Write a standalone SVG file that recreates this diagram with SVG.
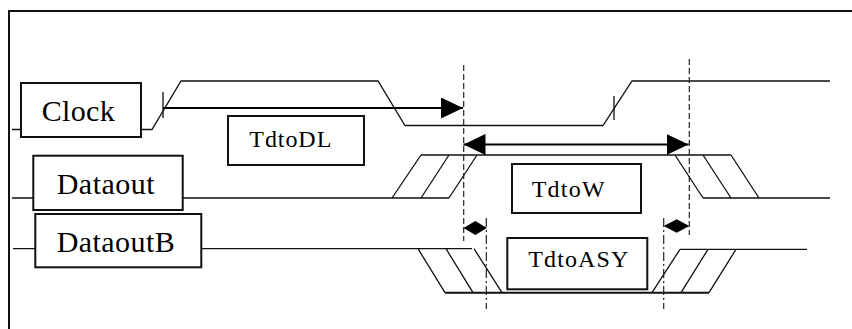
<svg xmlns="http://www.w3.org/2000/svg" width="852" height="329" viewBox="0 0 852 329">
<defs>
<marker id="ah" viewBox="0 0 22 21" refX="22" refY="10.5" markerWidth="22" markerHeight="21" markerUnits="userSpaceOnUse" orient="auto-start-reverse">
<path d="M0,0 L22,10.5 L0,21 Z" fill="#000"/>
</marker>
</defs>
<style>
.sig{fill:none;stroke:#111;stroke-width:1.3}
.box{fill:#fff;stroke:#111;stroke-width:2}
.big{font-family:"Liberation Serif","Times New Roman",serif;font-size:30px;fill:#000}
.sm{font-family:"Liberation Serif","Times New Roman",serif;font-size:24px;fill:#000}
.dash{fill:none;stroke:#222;stroke-width:1.2;stroke-dasharray:6,3}
.dd{fill:none;stroke:#222;stroke-width:1.2;stroke-dasharray:9,3,2,3}
.arr{fill:none;stroke:#000;stroke-width:2}
</style>
<rect x="9" y="11" width="860" height="330" fill="none" stroke="#111" stroke-width="2"/>
<g id="connectors">
<path class="sig" d="M12,129.5 H21 M141,129.5 H152 L181,81 H378 L405,125.5 H603 L632,81 H830"/>
<path class="sig" d="M163,92 V118 M614,96 V120"/>
<path class="sig" d="M12,198 H33 M182,198 H449 M392,198 L421,155 M421,198 L449,155 M449,198 L477,155 M421,155 H731 M675,155 L703,198 M703,155 L731,198 M731,155 L759,198 M703,198 H830"/>
<path class="sig" d="M13,248.7 H35 M201,248.7 H472 M418,248.7 L445,292.7 M446,248.7 L473,292.7 M474,248.7 L502,292.7 M652,292.7 L680,249.3 M681,292.7 L708,249.3 M709,292.7 L736,249.3 M680,249.3 H807"/>
<path d="M445,292.7 H709" fill="none" stroke="#111" stroke-width="2"/>
<path class="dash" d="M463.7,65 V241 M689.3,59 V235"/>
<path class="dd" d="M486.3,218 V309 M663.7,218 V309"/>
<line class="arr" x1="163" y1="108" x2="463" y2="108" marker-end="url(#ah)"/>
<line class="arr" x1="463.5" y1="144.5" x2="688.5" y2="144.5" marker-start="url(#ah)" marker-end="url(#ah)"/>
<path d="M463.5,228 L475.3,221 L487,228 L475.3,235 Z M663.7,226 L676.7,219.3 L689.3,226 L676.7,232.7 Z" fill="#000"/>
</g>
<g id="clock">
<rect class="box" x="21" y="83" width="120" height="54"/>
<text class="big" x="41.7" y="120.5" textLength="73" lengthAdjust="spacing">Clock</text>
</g>
<g id="dataout">
<rect class="box" x="33.3" y="155.7" width="149.4" height="54.3"/>
<text class="big" x="56.7" y="194" textLength="98" lengthAdjust="spacing">Dataout</text>
</g>
<g id="dataoutB">
<rect class="box" x="35.3" y="214" width="166" height="53.3"/>
<text class="big" x="56.7" y="251.7" textLength="118" lengthAdjust="spacing">DataoutB</text>
</g>
<g id="tdtoDL">
<rect class="box" x="228" y="116" width="136" height="49"/>
<text class="sm" x="249.3" y="146.7" textLength="82" lengthAdjust="spacing">TdtoDL</text>
</g>
<g id="tdtoW">
<rect class="box" x="512" y="164" width="129" height="49"/>
<text class="sm" x="531.7" y="196.7" textLength="73" lengthAdjust="spacing">TdtoW</text>
</g>
<g id="tdtoASY">
<rect class="box" x="507.3" y="238" width="140" height="51.3"/>
<text class="sm" x="528.3" y="266.7" textLength="100" lengthAdjust="spacing">TdtoASY</text>
</g>
</svg>
